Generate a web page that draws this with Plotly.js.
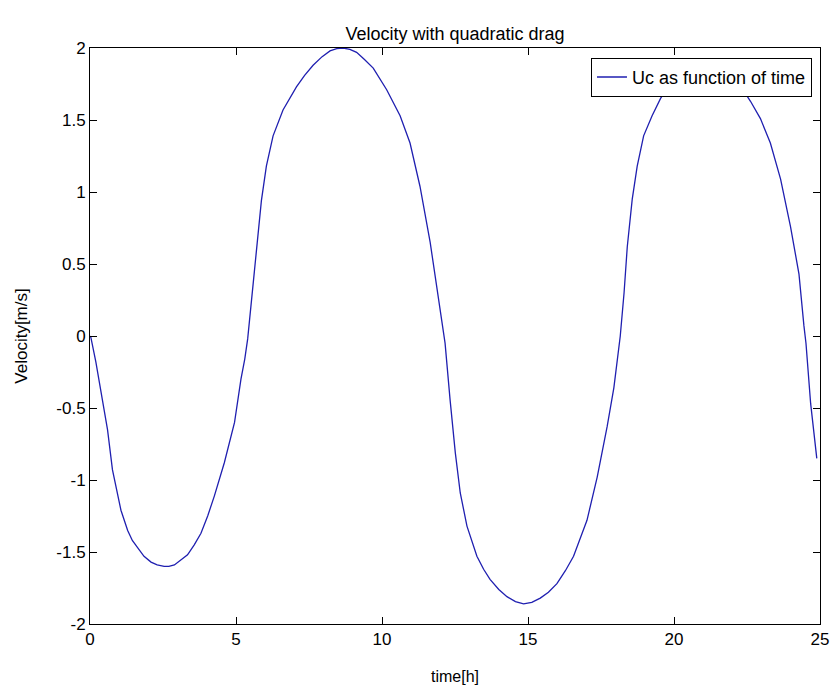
<!DOCTYPE html>
<html>
<head>
<meta charset="utf-8">
<script src="https://cdn.plot.ly/plotly-3.0.1.min.js"></script>
<style>html,body{margin:0;padding:0;background:#fff;}#chart{width:831px;height:690px;}</style>
</head>
<body>
<div id="chart"></div>
<script>
var timeH = [0, 0.03, 0.2, 0.37, 0.6, 0.77, 0.92, 1.06, 1.29, 1.45, 1.63, 1.85, 2.09, 2.3, 2.54, 2.7, 2.89, 3.1, 3.34, 3.57, 3.80, 4.03, 4.26, 4.60, 4.95, 5.17, 5.30, 5.40, 5.53, 5.70, 5.87, 6.04, 6.27, 6.61, 7.07, 7.35, 7.64, 7.95, 8.22, 8.45, 8.67, 8.90, 9.13, 9.40, 9.70, 10.16, 10.62, 10.96, 11.30, 11.65, 11.95, 12.16, 12.33, 12.51, 12.68, 12.91, 13.25, 13.48, 13.70, 14.0, 14.28, 14.57, 14.85, 15.13, 15.42, 15.70, 15.99, 16.28, 16.56, 17.02, 17.37, 17.71, 17.94, 18.16, 18.29, 18.40, 18.57, 18.74, 18.96, 19.25, 19.54, 19.9, 20.3, 20.7, 21.1, 21.5, 21.9, 22.3, 22.62, 22.96, 23.30, 23.65, 23.99, 24.28, 24.45, 24.52, 24.68, 24.89];
var velocity = [0, -0.01, -0.18, -0.37, -0.65, -0.93, -1.08, -1.21, -1.35, -1.42, -1.47, -1.53, -1.57, -1.59, -1.60, -1.60, -1.59, -1.56, -1.52, -1.45, -1.37, -1.25, -1.11, -0.88, -0.60, -0.30, -0.16, -0.02, 0.25, 0.62, 0.94, 1.18, 1.39, 1.57, 1.73, 1.81, 1.88, 1.94, 1.98, 1.995, 2.00, 1.99, 1.97, 1.92, 1.86, 1.71, 1.53, 1.34, 1.04, 0.65, 0.25, -0.05, -0.44, -0.81, -1.09, -1.32, -1.53, -1.62, -1.69, -1.76, -1.81, -1.845, -1.86, -1.85, -1.82, -1.78, -1.72, -1.63, -1.53, -1.28, -0.98, -0.63, -0.36, 0.0, 0.30, 0.62, 0.95, 1.18, 1.39, 1.53, 1.65, 1.76, 1.84, 1.89, 1.90, 1.88, 1.82, 1.73, 1.63, 1.51, 1.34, 1.09, 0.76, 0.43, 0.07, -0.05, -0.47, -0.85];
var seriesName = 'Uc as function of time';
var xTicks = [0, 5, 10, 15, 20, 25];
var yTicks = [-2, -1.5, -1, -0.5, 0, 0.5, 1, 1.5, 2];

var fam = 'Liberation Sans, Arial, sans-serif';
var tickFont = {family: fam, size: 17, color: '#000'};

var trace = {
  x: timeH, y: velocity, type: 'scatter', mode: 'lines', name: seriesName,
  line: {color: '#1f1fb0', width: 1.3, shape: 'linear'}
};

var axisBase = {
  showgrid: false, zeroline: false, showline: true, linecolor: '#000', linewidth: 1,
  mirror: 'ticks', ticks: 'inside', ticklen: 7, tickcolor: '#000', tickwidth: 1,
  tickfont: tickFont
};

var layout = {
  width: 831, height: 690,
  margin: {l: 90, r: 11, t: 48, b: 66},
  paper_bgcolor: '#fff', plot_bgcolor: '#fff',
  font: tickFont,
  title: {text: 'Velocity with quadratic drag', font: {family: fam, size: 18, color: '#000'}, xref: 'paper', x: 0.5, xanchor: 'center', y: 0.951, yanchor: 'middle'},
  xaxis: Object.assign({}, axisBase, {
    range: [0, 25], tickvals: xTicks, ticktext: xTicks.map(String),
    title: {text: 'time[h]', font: {family: fam, size: 16, color: '#000'}, standoff: 22}
  }),
  yaxis: Object.assign({}, axisBase, {
    range: [-2, 2], tickvals: yTicks, ticktext: yTicks.map(String),
    title: {text: 'Velocity[m/s]', font: {family: fam, size: 17, color: '#000'}, standoff: 24}
  }),
  showlegend: true,
  legend: {
    x: 0.989, y: 0.983, xanchor: 'right', yanchor: 'top',
    bgcolor: '#fff', bordercolor: '#000', borderwidth: 1,
    font: {family: fam, size: 18, color: '#000'}
  }
};

Plotly.newPlot('chart', [trace], layout, {displayModeBar: false, staticPlot: true});
</script>
</body>
</html>
